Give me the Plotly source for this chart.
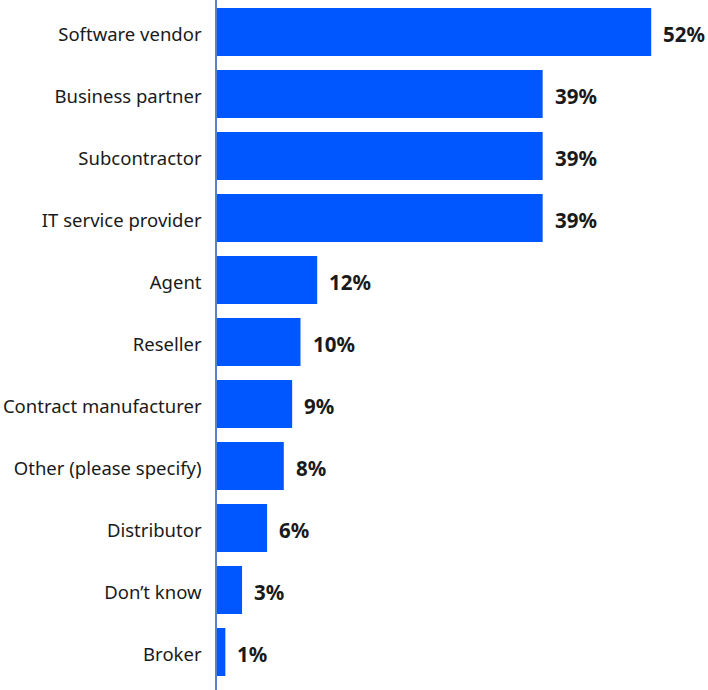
import plotly.graph_objects as go

categories = [
    "Software vendor", "Business partner", "Subcontractor", "IT service provider",
    "Agent", "Reseller", "Contract manufacturer", "Other (please specify)",
    "Distributor", "Don’t know", "Broker",
]
values = [52, 39, 39, 39, 12, 10, 9, 8, 6, 3, 1]
labels = [f"{v}%" for v in values]

BAR = "#0057FF"
INK = "#1a1a1a"
FONT = "Noto Sans"

fig = go.Figure(
    go.Bar(
        x=values,
        y=categories,
        orientation="h",
        marker=dict(color=BAR, line=dict(width=0)),
        hoverinfo="skip",
    )
)

# bold value labels just past each bar end
for cat, v, lab in zip(categories, values, labels):
    fig.add_annotation(
        x=v, y=cat, text=f"<b>{lab}</b>", showarrow=False,
        xanchor="left", xshift=10, yshift=-2,
        font=dict(family=FONT, size=20.5, color=INK),
    )

fig.update_layout(
    width=708, height=690,
    margin=dict(l=217, r=0, t=0, b=0),
    paper_bgcolor="white", plot_bgcolor="white",
    bargap=0.226,
    showlegend=False,
    font=dict(family=FONT, size=18.5, color=INK),
    xaxis=dict(range=[0, 58.8], visible=False, fixedrange=True),
    yaxis=dict(
        range=[10.613, -0.516],
        showline=True, linecolor="#5a7fc8", linewidth=1.5,
        showgrid=False, ticks="", ticklabelstandoff=10, ticklabelshift=-3,
        tickfont=dict(family=FONT, size=18.5, color=INK),
    ),
)

fig.write_html("out.html")
